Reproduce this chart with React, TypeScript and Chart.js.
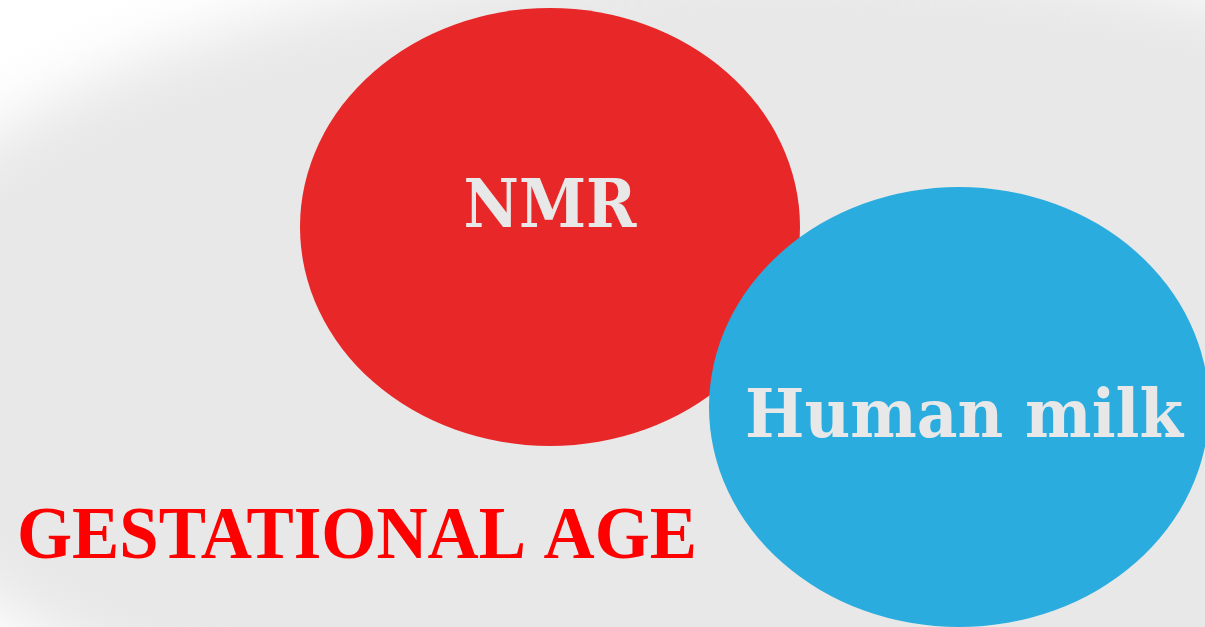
import React, { useEffect, useRef } from "react";
import { Chart, registerables } from "chart.js";

Chart.register(...registerables);

// ---- data ----
const categories = ["NMR", "Human milk"];
const centerX = [550, 959];
const centerY = [227, 407];
const radiusX = [250, 250];
const radiusY = [219, 220];
const labelX = [550, 964];
const labelY = [227, 437];
const labelWidths = [173, 438];
const fillColors = ["#e82828", "#2aacdf"];
const footerLabel = "GESTATIONAL AGE";
const footerPos = [17, 558];
const backdrop = { cx: 775, cy: 370, rx: 940, ry: 420 };

const W = 1205;
const H = 627;

const vennPlugin = {
  id: "venn",
  beforeDraw(chart: any) {
    const { ctx } = chart;
    const xs = chart.scales.x;
    const ys = chart.scales.y;
    ctx.save();
    ctx.fillStyle = "#ffffff";
    ctx.fillRect(0, 0, chart.width, chart.height);
    const cx = xs.getPixelForValue(backdrop.cx);
    const cy = ys.getPixelForValue(backdrop.cy);
    const rx = Math.abs(xs.getPixelForValue(backdrop.cx + backdrop.rx) - cx);
    const ry = Math.abs(ys.getPixelForValue(backdrop.cy + backdrop.ry) - cy);
    ctx.filter = "blur(32px)";
    ctx.fillStyle = "#e8e8e8";
    ctx.beginPath();
    ctx.ellipse(cx, cy, rx, ry, 0, 0, Math.PI * 2);
    ctx.fill();
    ctx.restore();
  },
  afterDatasetsDraw(chart: any) {
    const { ctx } = chart;
    const xs = chart.scales.x;
    const ys = chart.scales.y;
    ctx.save();
    categories.forEach((_, i) => {
      const cx = xs.getPixelForValue(centerX[i]);
      const cy = ys.getPixelForValue(centerY[i]);
      const rx = Math.abs(xs.getPixelForValue(centerX[i] + radiusX[i]) - cx);
      const ry = Math.abs(ys.getPixelForValue(centerY[i] + radiusY[i]) - cy);
      ctx.fillStyle = fillColors[i];
      ctx.beginPath();
      ctx.ellipse(cx, cy, rx, ry, 0, 0, Math.PI * 2);
      ctx.fill();
    });
    const drawScaled = (text: string, x: number, y: number, font: string, color: string, targetW: number, align: "center" | "left") => {
      ctx.save();
      ctx.font = font;
      ctx.fillStyle = color;
      ctx.textBaseline = "alphabetic";
      const w = ctx.measureText(text).width;
      const s = targetW / w;
      ctx.translate(x, y);
      ctx.scale(s, 1);
      ctx.textAlign = align;
      ctx.fillText(text, 0, 0);
      ctx.restore();
    };
    categories.forEach((c, i) => {
      const x = xs.getPixelForValue(labelX[i]);
      const y = ys.getPixelForValue(labelY[i]);
      drawScaled(c, x, y, "bold 68px 'DejaVu Serif'", "#e8e8e8", labelWidths[i], "center");
    });
    drawScaled(
      footerLabel,
      xs.getPixelForValue(footerPos[0]),
      ys.getPixelForValue(footerPos[1]),
      "bold 75px 'Liberation Serif'",
      "#ff0000",
      680,
      "left"
    );
    ctx.restore();
  },
};

export default function App() {
  const ref = useRef<HTMLCanvasElement | null>(null);
  useEffect(() => {
    document.body.style.margin = "0";
    const canvas = ref.current!;
    const chart = new Chart(canvas, {
      type: "scatter",
      data: {
        datasets: categories.map((c, i) => ({
          label: c,
          data: [{ x: centerX[i], y: centerY[i] }],
          pointRadius: 0,
          backgroundColor: fillColors[i],
        })),
      },
      options: {
        animation: false,
        responsive: false,
        maintainAspectRatio: false,
        layout: { padding: 0 },
        plugins: { legend: { display: false }, tooltip: { enabled: false } },
        scales: {
          x: { type: "linear", min: 0, max: W, display: false },
          y: { type: "linear", min: 0, max: H, reverse: true, display: false },
        },
      },
      plugins: [vennPlugin],
    });
    return () => chart.destroy();
  }, []);
  return (
    <div style={{ position: "fixed", left: 0, top: 0, width: W, height: H }}>
      <canvas ref={ref} width={W} height={H} style={{ display: "block" }} />
    </div>
  );
}
